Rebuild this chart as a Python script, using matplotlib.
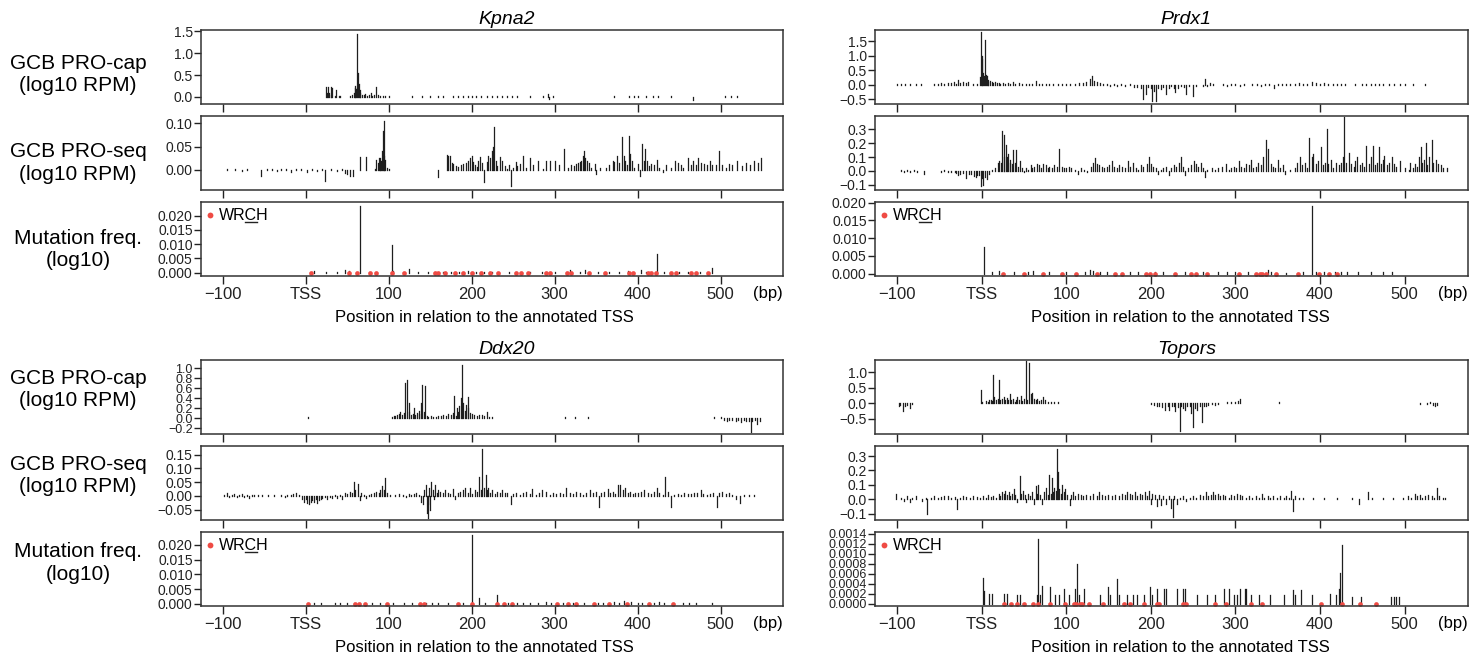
import matplotlib
matplotlib.use("Agg")
import matplotlib.pyplot as plt
from matplotlib.lines import Line2D

plt.rcParams['font.family'] = ['Liberation Sans', 'DejaVu Sans']

XTICKS = [-100, 0, 100, 200, 300, 400, 500]
XTICKLABELS = ['\u2212100', 'TSS', '100', '200', '300', '400', '500']
XLIM = (-126, 575)
GENES = ['Kpna2', 'Prdx1', 'Ddx20', 'Topors']
ROW_LABELS = ['GCB PRO-cap\n(log10 RPM)', 'GCB PRO-seq\n(log10 RPM)', 'Mutation freq.\n(log10)']
RED = '#ef4b44'
BAR = '#1e1e1e'

# ---------------- Kpna2 ----------------
KPNA2_CAP = [(-27, .01), (-5, .01), (2, .01), (10, .01), (13, .01), (24, .22), (26, .08), (27, .23), (28, .10),
             (30, .22), (31, .05), (32, .21), (35, .03), (37, .15), (40, .02), (42, .02), (53, .02), (56, .04),
             (58, .08), (59, .20), (60, .25), (61, .18), (62, 1.45), (63, .55), (64, .30), (65, .15), (66, .10),
             (68, .05), (70, .04), (72, .06), (74, .03), (76, .04), (79, .08), (80, .03), (82, .05), (85, .22),
             (87, .04), (90, .03), (93, .02), (96, .02), (100, .02), (103, .01), (122, .01), (128, .02),
             (135, .01), (140, .02), (146, .01), (150, .02), (155, .01), (160, .02), (166, .02), (172, .01),
             (178, .02), (183, .02), (190, .03), (196, .02), (200, .02), (205, .03), (211, .02), (218, .02),
             (224, .03), (230, .02), (236, .02), (242, .03), (248, .02), (255, .02), (262, .01), (270, .02),
             (280, .01), (286, .02), (292, .06), (293, -.04), (298, .02), (305, .01), (312, .01), (320, .01),
             (330, .01), (340, .01), (352, .01), (360, .01), (372, .02), (380, .01), (390, .02), (395, .02),
             (400, .02), (410, .02), (418, .02), (425, .02), (432, .01), (440, .02), (448, .01), (458, .01),
             (467, -.06), (480, .01), (495, .01), (505, .02), (512, .02), (520, .02), (528, .01), (535, .01)]
KPNA2_SEQ = [(-95, .002), (-85, .003), (-77, -.003), (-70, .002), (-54, -.012), (-47, .003), (-40, .002),
             (-35, -.003), (-30, .003), (-24, .002), (-18, -.004), (-12, .003), (-5, .002), (2, -.004), (8, .002),
             (14, -.003), (20, .002), (23, -.023), (30, .002), (38, -.003), (44, .002), (48, -.006), (50, -.008),
             (53, -.013), (57, -.013), (66, .028), (73, .028), (83, .003), (85, .021), (87, .015), (88, .025),
             (89, .018), (90, .026), (91, .02), (92, .04), (93, .083), (94, .105), (95, .03), (96, .022),
             (98, .005), (100, .003), (159, -.015), (170, .032), (172, .03), (174, .03), (176, .015), (178, .012),
             (181, .008), (184, .006), (187, .01), (190, .012), (193, .015), (196, .02), (198, .025), (200, .03),
             (202, .018), (204, .01), (206, .006), (208, .02), (210, .028), (212, .015), (215, -.025), (218, .016),
             (220, .03), (222, .025), (224, .04), (226, .05), (227, .091), (229, .02), (231, .008), (234, .028),
             (237, .02), (240, .008), (242, .003), (245, .01), (247, -.035), (250, .004), (253, .018), (255, .008),
             (258, .012), (262, .03), (265, .005), (270, .025), (274, .01), (280, .02), (286, .003), (290, .02),
             (294, .02), (300, .02), (305, .01), (311, .045), (316, .005), (320, .01), (323, .008), (326, .012),
             (328, .015), (330, .018), (332, .02), (334, .03), (335, .04), (337, .025), (339, .02), (341, .015),
             (344, .005), (348, .012), (350, -.008), (355, .004), (362, .005), (366, .01), (370, .02), (372, .018),
             (375, .03), (378, .015), (381, .07), (383, .03), (385, .02), (387, .01), (389, .072), (391, .035),
             (393, .02), (396, .005), (400, .012), (403, -.012), (405, .055), (407, .02), (409, .045), (411, .02),
             (413, .008), (416, .012), (420, .01), (423, .022), (426, .005), (430, -.004), (434, .01), (440, .005),
             (445, .02), (448, .015), (452, .01), (455, .005), (460, .025), (464, .01), (467, .02), (470, .01),
             (473, .025), (476, .015), (480, .012), (484, .01), (487, .02), (490, .01), (494, .01), (498, .04),
             (502, .01), (506, .005), (510, .012), (514, .01), (520, .02), (526, .008), (530, .015), (535, .01),
             (540, .02), (545, .015), (549, .025)]
KPNA2_MUT = [(10, .0006), (25, .0002), (38, .0003), (48, .0008), (52, .0006), (65, .0235), (104, .0098),
             (105, .0006), (125, .0012), (135, .0003), (148, .0002), (165, .0004), (175, .0004), (185, .0003),
             (195, .0005), (205, .0004), (215, .0003), (225, .0004), (245, .0003), (270, .0002), (285, .0003),
             (300, .0002), (318, .0009), (330, .0004), (336, .0008), (352, .0003), (365, .0002), (378, .0003),
             (388, .0005), (404, .0009), (410, .0004), (423, .0065), (432, .0004), (450, .0003), (460, .0004),
             (475, .0003), (489, .0018)]
KPNA2_WRCH = [6, 52, 62, 77, 85, 104, 118, 156, 159, 168, 180, 190, 200, 211, 222, 232, 253, 259, 268, 290,
              294, 315, 320, 341, 361, 390, 394, 412, 416, 422, 440, 446, 464, 470, 485]

# ---------------- Prdx1 ----------------
PRDX1_CAP = [(-100, .01), (-95, .01), (-90, .01), (-85, .01), (-78, .01), (-72, .01), (-56, .02), (-52, .03),
             (-48, .05), (-44, .04), (-40, .06), (-36, .05), (-33, .08), (-30, .04), (-28, .15), (-25, .06),
             (-22, .08), (-19, .05), (-16, .09), (-10, .02), (-5, .03), (-2, .25), (-1, 1.8), (0, .9), (1, 1.0),
             (2, .4), (3, .3), (4, 1.55), (5, .35), (6, .3), (7, .15), (8, .1), (10, .12), (12, .08), (14, .06),
             (16, .1), (18, .05), (20, .07), (22, .04), (25, .06), (28, .03), (31, .05), (34, .04), (37, .1),
             (40, .03), (44, .05), (48, .02), (52, .04), (56, .03), (60, .02), (64, .12), (68, .03), (72, .02),
             (76, .04), (80, .02), (85, .03), (90, .02), (95, .03), (100, .02), (105, .04), (110, .03), (115, .05),
             (120, .06), (124, .08), (128, .2), (131, .3), (133, .12), (136, .08), (140, .06), (144, .04),
             (148, .02), (152, -.03), (156, .03), (160, -.04), (165, .02), (170, -.05), (175, .03), (180, -.06),
             (184, -.08), (188, -.1), (191, -.5), (194, -.3), (197, -.08), (200, -.12), (202, -.55), (204, -.2),
             (206, -.55), (209, -.1), (212, -.15), (215, -.08), (218, -.3), (221, -.1), (224, -.05), (227, -.12),
             (229, -.25), (232, -.1), (236, -.05), (239, -.08), (242, -.3), (245, -.05), (248, -.02), (250, -.4),
             (254, -.03), (258, -.02), (262, -.04), (264, .2), (266, -.05), (270, .05), (274, .03), (280, -.02),
             (285, .02), (290, -.03), (295, .03), (300, .02), (305, -.04), (310, .03), (315, -.02), (320, .02),
             (325, .04), (330, -.03), (335, .02), (340, .03), (346, -.1), (350, .02), (355, .03), (360, .02),
             (365, .04), (370, .03), (375, .05), (380, .03), (385, .04), (391, .1), (395, .05), (400, .04),
             (405, .06), (410, .03), (415, .04), (420, .02), (425, .03), (430, .02), (438, -.02), (442, .03),
             (450, .02), (455, .04), (460, .03), (465, .02), (470, .03), (475, .02), (482, .01), (488, .02),
             (495, .01), (500, .01), (510, .01), (524, .01)]
PRDX1_SEQ = [(-95, .005), (-92, -.005), (-88, .004), (-85, -.004), (-80, .004), (-76, -.006), (-72, .003),
             (-68, -.02), (-60, .003), (-48, -.01), (-44, .004), (-40, -.006), (-36, -.008), (-32, -.01),
             (-30, -.015), (-28, -.03), (-26, -.02), (-22, -.012), (-18, -.05), (-15, -.025), (-12, -.02),
             (-9, -.035), (-7, -.04), (-5, -.03), (-3, -.03), (-1, -.11), (0, -.05), (2, -.1), (4, -.04),
             (6, -.06), (9, -.02), (12, .01), (16, .02), (19, .06), (21, .07), (23, .06), (24, .29), (26, .26),
             (27, .1), (29, .19), (30, .1), (31, .12), (33, .06), (34, .08), (36, .05), (37, .15), (39, .06),
             (41, .15), (43, .03), (45, .07), (48, .02), (50, -.01), (52, .02), (55, .01), (58, .04), (60, .02),
             (62, .03), (65, .05), (68, .04), (70, .02), (73, .05), (76, .04), (78, .02), (80, .03), (83, .02),
             (86, .04), (89, .03), (92, .16), (95, .03), (98, .02), (100, .02), (103, .03), (106, .02), (110, .01),
             (114, -.02), (118, .02), (121, .01), (125, -.01), (129, .03), (132, .06), (134, .09), (136, .05),
             (139, .04), (142, .03), (145, .02), (148, .03), (151, .04), (154, .07), (157, .03), (160, .02),
             (163, .04), (166, .03), (169, .02), (173, .07), (176, .03), (179, .06), (182, .02), (185, .01),
             (188, .04), (191, .03), (195, .05), (198, .1), (200, .05), (203, .03), (206, .02), (209, -.02),
             (212, .01), (215, .02), (218, .03), (221, -.03), (224, .02), (227, .04), (230, .03), (233, .06),
             (236, .1), (238, .03), (241, -.03), (244, .02), (247, .04), (251, .07), (253, .05), (256, .03),
             (259, .06), (262, .02), (264, -.04), (267, .01), (272, .02), (276, .01), (280, .02), (284, .03),
             (289, .05), (292, .01), (295, .02), (298, .03), (301, .02), (304, .07), (307, .03), (310, .02),
             (313, .05), (316, .04), (318, .08), (321, .02), (324, .03), (327, .06), (330, .04), (333, .1),
             (336, .22), (339, .16), (342, .05), (345, .03), (347, .02), (350, .08), (353, .02), (356, .04),
             (359, -.02), (365, .01), (370, .02), (373, .06), (376, .1), (379, .04), (382, .06), (385, .02),
             (387, .24), (390, .1), (392, .12), (395, .05), (398, .07), (401, .17), (404, .04), (406, .06),
             (408, .3), (410, .05), (413, .08), (416, .02), (419, .06), (422, .04), (425, .06), (427, .1),
             (429, .39), (431, .06), (434, .13), (437, .05), (440, .03), (442, .07), (444, .1), (447, .04),
             (450, .06), (452, .03), (455, .18), (458, .05), (460, .1), (463, .18), (465, .04), (468, .06),
             (470, .17), (472, .05), (474, .08), (476, .11), (479, .04), (482, .06), (485, .1), (487, .05),
             (490, .03), (495, .07), (500, .02), (505, .01), (507, .06), (510, .02), (512, .05), (515, .03),
             (517, .1), (519, .17), (521, .06), (523, .08), (525, .2), (527, .04), (529, .1), (532, .22),
             (534, .06), (537, .08), (540, .05), (543, .04), (546, .02), (550, .02)]
PRDX1_MUT = [(3, .0075), (12, .0003), (20, .0006), (38, .0003), (55, .0004), (61, .0006), (80, .0003),
             (100, .0003), (122, .0004), (128, .0009), (132, .0006), (140, .0004), (148, .0003), (175, .0003),
             (185, .0004), (205, .0004), (215, .0003), (240, .0003), (262, .0003), (280, .0003), (290, .0005),
             (300, .0003), (315, .0004), (338, .0011), (342, .0005), (360, .0002), (380, .0004), (390, .019),
             (395, .0005), (405, .0004), (418, .0004), (425, .0003), (432, .0005), (445, .0003), (460, .0003),
             (475, .0003), (485, .0003)]
PRDX1_WRCH = [25, 50, 73, 95, 112, 137, 158, 166, 194, 199, 205, 229, 247, 254, 266, 304, 324, 329, 332, 336,
              348, 374, 399, 411, 420]

# ---------------- Ddx20 ----------------
DDX20_CAP = [(-100, .01), (-95, .01), (-90, .01), (-85, .01), (-78, .01), (-70, .01), (-62, .01), (-55, .01),
             (-48, .01), (-40, .01), (-30, .01), (-18, .01), (-10, .01), (-3, .01), (3, .02), (8, .01), (14, .01),
             (20, .01), (28, .01), (35, .01), (45, .01), (60, .01), (68, .01), (75, .01), (82, .01), (92, .01),
             (104, .03), (106, .05), (108, .04), (110, .06), (112, .08), (114, .12), (116, .07), (118, .1),
             (120, .7), (122, .77), (124, .3), (125, .12), (127, .06), (129, .08), (130, .2), (132, .06),
             (134, .1), (136, .08), (137, .15), (139, .3), (140, .67), (142, .12), (144, .65), (146, .05),
             (148, .03), (151, .04), (154, .02), (157, .03), (160, .05), (163, .04), (166, .06), (169, .05),
             (172, .08), (175, .06), (177, .1), (179, .45), (181, .05), (182, .2), (184, .12), (185, .25),
             (187, .4), (188, 1.07), (190, .3), (192, .15), (193, .27), (195, .43), (196, .2), (198, .1),
             (200, .08), (203, .06), (206, .05), (209, .07), (212, .06), (215, .05), (218, .12), (221, .03),
             (224, .02), (230, .01), (236, .01), (242, .01), (248, .01), (254, .01), (260, .01), (266, .01),
             (272, .01), (278, .01), (284, .01), (290, .01), (298, .01), (305, .01), (312, .02), (318, .01),
             (325, .02), (332, .01), (340, .02), (350, .01), (356, .01), (362, .01), (375, .01), (382, .01),
             (392, .01), (400, .01), (406, .01), (412, .01), (420, .01), (428, .01), (436, .01), (445, .01),
             (452, .01), (460, .01), (468, .01), (476, .01), (484, .01), (492, .02), (500, .03), (504, -.04),
             (507, -.05), (510, -.03), (514, -.04), (518, -.05), (521, -.03), (525, -.07), (528, -.04),
             (531, -.05), (534, -.06), (536, -.28), (538, -.05), (541, -.04), (544, -.12), (547, -.05)]
DDX20_SEQ = [(-98, .004), (-95, .012), (-92, -.003), (-89, .005), (-86, .008), (-83, -.005), (-80, .004),
             (-77, .006), (-74, -.004), (-71, .003), (-68, -.006), (-65, .005), (-62, .004), (-57, .003),
             (-52, .002), (-45, .003), (-38, .002), (-30, .004), (-25, -.004), (-22, .005), (-18, .003),
             (-15, .006), (-12, .01), (-8, .004), (-4, -.01), (-2, -.02), (0, -.01), (2, -.025), (4, -.03),
             (6, -.02), (8, -.015), (10, -.02), (12, -.01), (14, -.025), (16, -.015), (18, -.01), (20, -.008),
             (23, -.005), (26, -.01), (29, -.005), (32, -.008), (35, .004), (38, -.006), (41, .005), (44, -.01),
             (47, .01), (50, .008), (53, .015), (56, .012), (58, .05), (60, .02), (63, .045), (65, -.015),
             (67, .01), (70, .005), (73, -.008), (76, .004), (79, .006), (82, .01), (85, .015), (88, .012),
             (90, .02), (92, .035), (94, .02), (96, .065), (98, .01), (102, .004), (108, .003), (113, .006),
             (117, .004), (121, -.005), (124, .008), (127, .004), (130, .006), (133, .01), (136, .005),
             (139, -.02), (141, -.03), (143, .02), (145, .04), (146, -.06), (147, -.08), (148, -.03), (149, .03),
             (150, -.05), (151, .05), (153, .02), (155, -.01), (156, .04), (158, .01), (160, .02), (162, .015),
             (165, .01), (168, .02), (171, .012), (174, .008), (177, .025), (180, -.01), (183, .01), (186, .015),
             (189, .02), (192, .03), (195, .012), (198, .03), (201, .008), (204, .02), (207, .015), (209, .07),
             (211, .02), (213, .17), (215, .03), (217, .075), (219, .02), (220, .03), (222, .01), (225, .02),
             (228, .008), (231, .015), (234, .01), (237, .02), (240, .012), (243, .01), (247, -.03), (250, .008),
             (254, .012), (258, .005), (262, .01), (266, .015), (270, .008), (273, .025), (277, .005), (281, .01),
             (285, .02), (290, .015), (294, .005), (298, .012), (302, .008), (306, .01), (310, .006), (314, .03),
             (318, .012), (322, .008), (326, .015), (330, .01), (334, .005), (338, .012), (342, .02), (346, .01),
             (350, .015), (353, -.04), (356, .01), (360, .015), (364, .025), (367, .01), (370, .015), (373, .008),
             (376, .04), (379, .04), (382, .02), (385, .03), (388, .01), (391, .015), (394, .008), (397, .01),
             (400, .012), (404, .015), (408, .02), (412, .01), (416, .008), (420, .015), (423, .03), (426, .01),
             (430, .005), (433, .07), (436, .015), (440, -.04), (444, .005), (448, .008), (452, .004), (456, .01),
             (460, .006), (464, .008), (468, .01), (472, .012), (476, .02), (479, .008), (483, .005), (487, .006),
             (491, .01), (495, -.04), (498, .01), (502, .015), (506, .008), (510, .012), (514, .005), (518, -.01),
             (523, -.025), (528, .004), (534, .003), (540, .002)]
DDX20_MUT = [(10, .0002), (18, .0002), (35, .0003), (42, .0004), (50, .0003), (58, .0004), (66, .0002),
             (80, .0003), (90, .0003), (105, .0002), (118, .0003), (128, .0003), (145, .0003), (152, .0002),
             (160, .0003), (172, .0003), (190, .0003), (200, .0235), (209, .002), (216, .0003), (231, .003),
             (244, .0004), (255, .0003), (262, .0003), (270, .0004), (280, .0003), (290, .0005), (296, .0004),
             (310, .0003), (322, .0003), (335, .0003), (352, .0004), (358, .0003), (372, .0005), (378, .0004),
             (383, .0011), (392, .0005), (400, .0004), (405, .0003), (420, .0004), (426, .0005), (432, .0003),
             (455, .0003), (462, .0003), (470, .0003), (490, .0003)]
DDX20_WRCH = [3, 60, 64, 72, 98, 138, 142, 183, 200, 231, 239, 248, 303, 316, 326, 347, 365, 387, 413, 442]

# ---------------- Topors ----------------
TOPORS_CAP = [(-98, -.1), (-96, -.05), (-93, -.25), (-90, -.1), (-88, -.05), (-85, -.15), (-82, -.03), (-70, .01),
              (-62, .01), (-55, .01), (-48, .01), (-42, .02), (-38, .02), (-32, .01), (-25, .02), (-18, .01),
              (-10, .01), (-5, .02), (-1, .42), (1, .05), (3, .02), (5, .08), (7, .05), (9, .1), (11, .12),
              (12, .06), (14, .9), (15, .2), (17, .12), (19, .15), (20, .75), (22, .12), (24, .15), (26, .2),
              (28, .1), (30, .18), (31, .12), (33, .3), (35, .1), (37, .15), (39, .05), (41, .12), (42, .2),
              (44, .1), (46, .25), (48, .08), (50, .15), (52, 1.37), (54, .1), (56, 1.3), (58, .3), (60, .35),
              (62, .15), (64, .1), (66, .15), (68, .08), (70, .1), (73, .22), (75, .1), (78, .05), (82, .04),
              (86, .03), (90, .03), (95, .02), (100, .02), (105, .01), (112, .01), (120, .02), (126, .01),
              (132, .01), (138, .02), (145, .01), (150, .02), (156, .01), (162, .02), (168, .01), (175, .01),
              (182, .02), (188, .01), (195, .02), (200, -.03), (204, -.05), (207, -.08), (210, -.1), (213, -.12),
              (217, -.2), (220, -.1), (222, -.2), (225, -.08), (227, -.1), (229, -.25), (232, -.12), (234, -.88),
              (236, -.1), (238, -.15), (241, -.2), (243, -.1), (246, -.08), (248, -.3), (250, -.77), (252, -.15),
              (255, -.2), (258, -.08), (261, -.6), (263, -.1), (265, -.1), (268, -.05), (272, -.03), (276, -.04),
              (280, -.02), (285, .02), (290, .03), (295, .04), (300, .03), (303, .08), (306, .15), (310, .02),
              (316, .01), (322, .02), (330, .01), (338, .02), (346, .01), (352, .03), (360, .01), (370, .01),
              (380, .01), (390, .01), (400, .01), (410, .01), (422, .01), (432, .01), (444, .01), (455, .01),
              (470, .01), (480, .01), (490, .01), (500, .02), (508, .01), (514, .02), (518, -.03), (522, .02),
              (526, -.02), (530, .03), (534, -.05), (536, -.1), (538, -.05), (541, .01)]
TOPORS_SEQ = [(-101, .04), (-98, .005), (-95, .01), (-92, -.01), (-88, .02), (-85, -.02), (-82, .01), (-78, .02),
              (-74, .005), (-70, -.01), (-66, .01), (-64, -.1), (-60, .01), (-56, .02), (-52, .01), (-48, .015),
              (-44, .025), (-40, .02), (-36, .01), (-32, .015), (-29, -.07), (-26, .01), (-22, .02), (-18, .015),
              (-14, .01), (-10, .02), (-6, .015), (-2, .01), (2, .02), (5, .01), (8, .03), (11, .015), (14, .02),
              (17, .01), (20, .04), (22, .02), (24, .05), (26, .04), (28, .06), (30, .03), (32, .05), (34, .02),
              (36, .04), (38, .07), (40, .03), (42, -.02), (45, .16), (47, .04), (49, .06), (51, .03), (53, -.02),
              (55, .04), (57, .02), (60, .05), (62, -.03), (64, .09), (66, .04), (67, .1), (69, .03), (72, -.03),
              (74, .05), (76, .08), (78, .03), (80, .17), (82, .04), (83, .15), (85, .05), (86, .08), (88, .06),
              (89, .35), (90, .19), (92, .07), (94, .04), (95, .1), (97, .05), (99, .07), (101, .03), (104, -.04),
              (106, .03), (108, .05), (111, .02), (114, .04), (117, .03), (120, .02), (124, .03), (128, .02),
              (132, .04), (136, .02), (139, .05), (142, .03), (146, .02), (150, .03), (154, .02), (158, .03),
              (162, .02), (166, .04), (170, .03), (172, .05), (175, .04), (178, .03), (181, .05), (184, .02),
              (187, .04), (190, .03), (193, .05), (196, .02), (198, .06), (200, -.03), (202, .04), (205, .03),
              (207, -.05), (210, .03), (212, -.04), (215, .02), (218, -.03), (221, .02), (224, -.06), (226, -.12),
              (228, .02), (231, -.03), (234, .01), (238, .02), (242, -.01), (246, .01), (250, .02), (254, .01),
              (258, .03), (262, .02), (265, .05), (268, .02), (271, .03), (274, .05), (276, .03), (279, .04),
              (282, .02), (285, .03), (288, .02), (292, .01), (295, .03), (298, .02), (302, .04), (305, .03),
              (308, .02), (312, .01), (316, .02), (320, .01), (324, .02), (328, .01), (331, .04), (334, .01),
              (338, .02), (341, .01), (345, .02), (349, .01), (353, .02), (357, .01), (360, .02), (363, .01),
              (366, .06), (368, -.08), (371, .02), (375, .01), (380, .01), (386, .005), (392, .01), (398, .005),
              (405, .01), (412, .005), (420, .01), (428, .005), (438, .01), (446, -.03), (452, .005), (457, .05),
              (462, .01), (468, .005), (474, .01), (480, .005), (486, .01), (492, .005), (498, .01), (504, .02),
              (508, .01), (512, .04), (515, .02), (518, .03), (521, .01), (524, .02), (528, .03), (532, .02),
              (535, .01), (538, .08), (541, .02), (545, .01), (548, .01)]
TOPORS_MUT = [(2, .00052), (3, .00025), (9, .0002), (12, .0002), (26, .0002), (30, .0002), (42, .00017),
              (45, .00017), (65, .00017), (67, .0013), (69, .00017), (72, .00035), (81, .00033), (87, .00017),
              (92, .00017), (98, .0003), (103, .00017), (111, .0003), (113, .00079), (115, .00017), (121, .0003),
              (140, .00017), (149, .00033), (152, .00017), (160, .0005), (163, .00017), (172, .00017),
              (179, .00017), (184, .00017), (192, .00017), (199, .00033), (201, .00017), (207, .0003),
              (216, .0003), (218, .0003), (231, .00029), (238, .00029), (240, .00029), (255, .00017),
              (267, .00017), (276, .00017), (286, .0003), (293, .0003), (298, .00017), (302, .00017),
              (305, .0003), (311, .0003), (313, .0003), (319, .00017), (328, .00017), (341, .00017),
              (358, .00017), (368, .00027), (370, .00017), (378, .00027), (390, .00017), (412, .0002),
              (419, .00017), (423, .0003), (424, .00062), (426, .00118), (438, .00013), (448, .00013),
              (484, .00013), (487, .00013), (490, .00013), (494, .00013)]
TOPORS_WRCH = [27, 35, 42, 50, 61, 67, 81, 99, 109, 112, 116, 119, 127, 143, 168, 175, 192, 207, 210, 238, 242,
               276, 289, 319, 332, 401, 426, 447, 466]

DATA = {
    'Kpna2': (KPNA2_CAP, KPNA2_SEQ, KPNA2_MUT, KPNA2_WRCH),
    'Prdx1': (PRDX1_CAP, PRDX1_SEQ, PRDX1_MUT, PRDX1_WRCH),
    'Ddx20': (DDX20_CAP, DDX20_SEQ, DDX20_MUT, DDX20_WRCH),
    'Topors': (TOPORS_CAP, TOPORS_SEQ, TOPORS_MUT, TOPORS_WRCH),
}
YLIMS = {
    'Kpna2': [(-0.16, 1.53), (-0.0426, 0.115), (-0.00116, 0.0248)],
    'Prdx1': [(-0.66, 1.88), (-0.137, 0.396), (-0.0007, 0.0202)],
    'Ddx20': [(-0.31, 1.16), (-0.087, 0.181), (-0.0007, 0.0244)],
    'Topors': [(-0.99, 1.40), (-0.144, 0.37), (-0.00004, 0.00143)],
}
MUT_TICKS = [0, 0.005, 0.010, 0.015, 0.020]
YTICKS = {
    'Kpna2': [([0, 0.5, 1.0, 1.5], 1), ([0, 0.05, 0.10], 2), (MUT_TICKS, 3)],
    'Prdx1': [([-0.5, 0, 0.5, 1.0, 1.5], 1), ([-0.1, 0, 0.1, 0.2, 0.3], 1), (MUT_TICKS, 3)],
    'Ddx20': [([-0.2, 0, 0.2, 0.4, 0.6, 0.8, 1.0], 1), ([-0.05, 0, 0.05, 0.10, 0.15], 2), (MUT_TICKS, 3)],
    'Topors': [([-0.5, 0, 0.5, 1.0], 1), ([-0.1, 0, 0.1, 0.2, 0.3], 1),
               ([0, 0.0002, 0.0004, 0.0006, 0.0008, 0.0010, 0.0012, 0.0014], 4)],
}

W, H = 1475, 658
fig = plt.figure(figsize=(W / 100, H / 100), dpi=100)

# panel geometry in pixels: (left, right) per column, (top, bottom) per row
COLS = [(201, 783), (875, 1468)]
ROWS_TOP = [(30, 104), (116, 190), (202, 276)]
ROWS_BOT = [(360, 434), (446, 520), (532, 606)]
LAYOUT = {'Kpna2': (0, ROWS_TOP), 'Prdx1': (1, ROWS_TOP), 'Ddx20': (0, ROWS_BOT), 'Topors': (1, ROWS_BOT)}


def fmt(v, d):
    s = f"{v:.{d}f}"
    return s.replace('-', '\u2212')


wrch_texts = []
for gene in GENES:
    col, rows = LAYOUT[gene]
    x0, x1 = COLS[col]
    for i, (t, b) in enumerate(rows):
        ax = fig.add_axes([x0 / W, 1 - b / H, (x1 - x0) / W, (b - t) / H])
        series = DATA[gene][i]
        pos = [p for p, v in series]
        val = [v for p, v in series]
        ax.vlines(pos, 0, val, color=BAR, lw=0.9, capstyle='projecting')
        ax.set_xlim(XLIM)
        ax.set_ylim(YLIMS[gene][i])
        ticks, d = YTICKS[gene][i]
        ax.set_yticks(ticks)
        ax.set_yticklabels([fmt(v, d) for v in ticks])
        ax.set_xticks(XTICKS)
        ysize = 9 if len(ticks) > 5 else 10
        ax.tick_params(direction='out', length=6, width=1, colors='#222222', labelsize=10, pad=1)
        ax.tick_params(axis='y', length=5, labelsize=ysize)
        for s in ax.spines.values():
            s.set_linewidth(1.1)
            s.set_color('#333333')
        if i == 0:
            ax.set_title(gene, style='italic', fontsize=14, x=0.525, pad=4)
        if i == 2:
            wpos = DATA[gene][3]
            ax.plot(wpos, [0] * len(wpos), 'o', color=RED, ms=3.4, mec='none', clip_on=False)
            ax.set_xticklabels(XTICKLABELS, fontsize=12)
            ax.tick_params(axis='x', pad=2)
            ax.text(1.0, -0.23, '(bp)', transform=ax.transAxes, ha='right', va='center', fontsize=12)
            ax.plot([0.015], [0.82], 'o', color=RED, ms=4.2, mec='none', transform=ax.transAxes)
            wt = ax.text(0.03, 0.82, 'WRCH', transform=ax.transAxes, va='center', fontsize=11.5)
            wrch_texts.append(wt)
            xc = (484 if col == 0 else 1180) / W
            yc = 1 - (318 if rows is ROWS_TOP else 648) / H
            fig.text(xc, yc, 'Position in relation to the annotated TSS', ha='center', va='center', fontsize=12)
        else:
            ax.tick_params(axis='x', labelbottom=False)

# row labels on the left
for ys in ([74.5, 163, 249.5], [389.5, 475.5, 563]):
    for y, lab in zip(ys, ROW_LABELS):
        fig.text(78 / W, 1 - y / H, lab, ha='center', va='center', fontsize=15, linespacing=1.25)

# underline the C in WRCH
fig.canvas.draw()
r = fig.canvas.get_renderer()
inv = fig.transFigure.inverted()
for wt in wrch_texts:
    bb = wt.get_window_extent(r)
    prop = wt.get_fontproperties()
    w1 = r.get_text_width_height_descent('WR', prop, ismath=False)[0]
    w2 = r.get_text_width_height_descent('WRC', prop, ismath=False)[0]
    (fx1, fy), (fx2, _) = inv.transform([(bb.x0 + w1, bb.y0 + 1), (bb.x0 + w2, bb.y0 + 1)])
    fig.add_artist(Line2D([fx1, fx2], [fy, fy], transform=fig.transFigure, color='#222222', lw=1))

fig.savefig('out.png', dpi=100)
